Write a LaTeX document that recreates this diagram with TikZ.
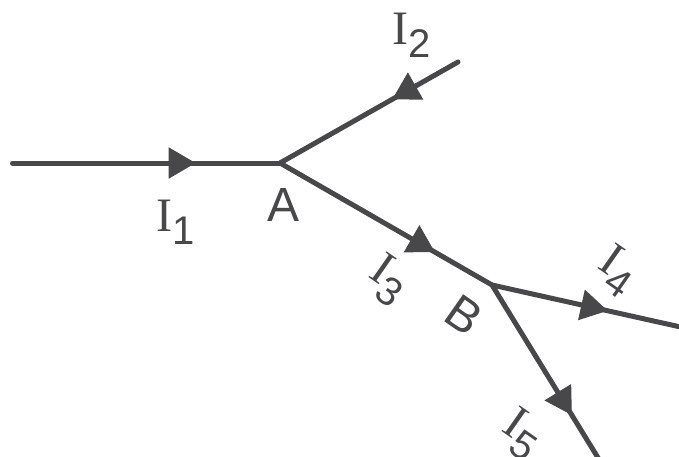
\documentclass[tikz,border=0pt]{standalone}
\usepackage{fontspec}
\setmainfont{Liberation Serif}
\setsansfont{Liberation Sans}
\usetikzlibrary{arrows.meta,decorations.markings}

\definecolor{wiregray}{RGB}{72,72,74}

\newcommand{\cur}[1]{%
  \rmfamily\fontsize{48}{48}\selectfont I%
  \raisebox{-13pt}{\sffamily\fontsize{40}{40}\selectfont #1}}

\tikzset{
  wire/.style={
    draw=wiregray,
    line width=5pt
  },
  flow/.style={
    postaction={decorate},
    decoration={
      markings,
      mark=at position #1 with {\arrow{Triangle[length=27pt,width=30pt]}}
    }
  },
  lbl/.style={
    text=wiregray,
    inner sep=0pt,
    font=\sffamily\fontsize{48}{48}\selectfont
  }
}

\begin{document}
\begin{tikzpicture}[
  x=1pt,
  y=1pt,
  line cap=round,
  line join=round
]
  \useasboundingbox (0,0) rectangle (679,456);

  % Узлы и свободные концы
  \coordinate (in) at (12.5,293);
  \coordinate (jA) at (280,293);
  \coordinate (e2) at (458,394);
  \coordinate (jB) at (492,171);
  \coordinate (e4) at (685,128);
  \coordinate (e5) at (600,-5);

  % Провода
  \draw[wire,flow=0.685]
    (in) -- (jA);

  \draw[wire,flow=0.37]
    (e2) -- (jA);

  \draw[wire,flow=0.731]
    (jA) -- (jB);

  \draw[wire,flow=0.6]
    (jB) -- (e4);

  \draw[wire,flow=0.74]
    (jB) -- (e5);

  % Подписи
  \node[lbl] (i1) at (176,233.5) {\cur{1}};
  \node[lbl] (i2) at (411.5,421) {\cur{2}};
  \node[lbl] (la) at (284,251.5) {A};

  \node[lbl,rotate=-35] (i3) at (388,176) {\cur{3}};
  \node[lbl,rotate=-35] (lb) at (464,140.5) {B};
  \node[lbl,rotate=-35] (i4) at (617,185) {\cur{4}};
  \node[lbl,rotate=-35] (i5) at (521.5,22) {\cur{5}};
\end{tikzpicture}
\end{document}
